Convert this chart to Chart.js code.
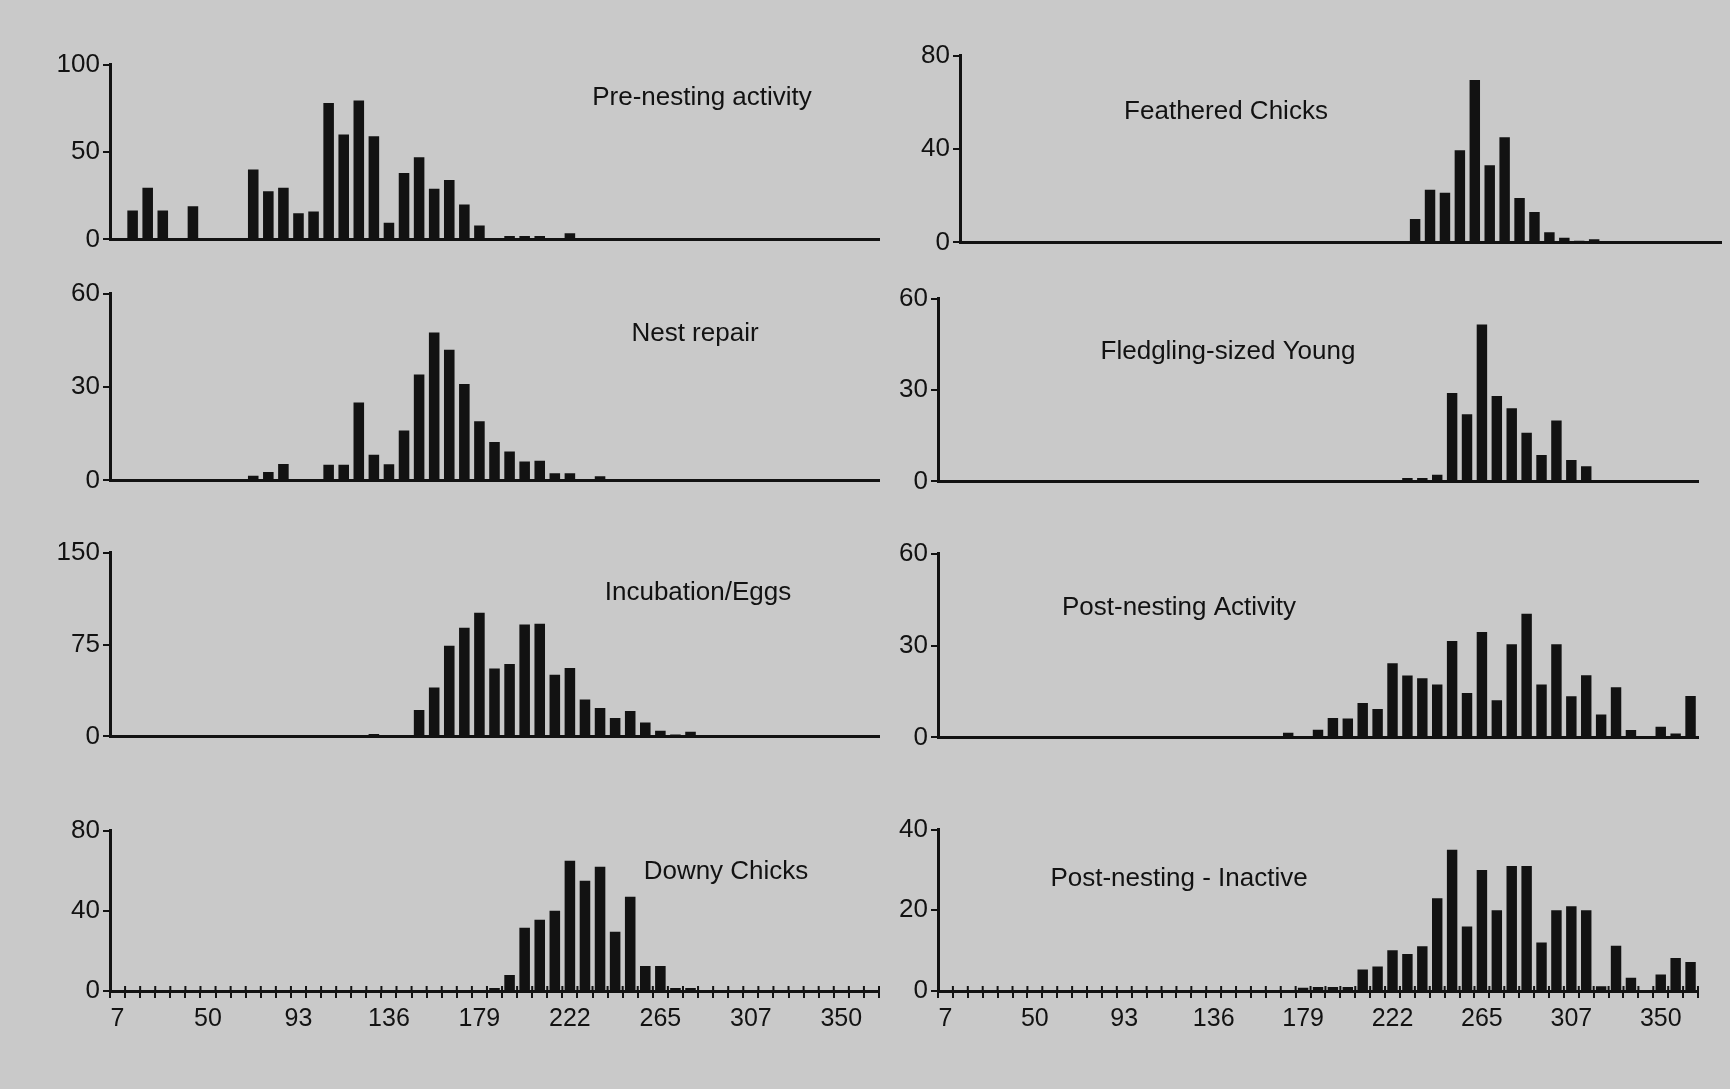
<!DOCTYPE html>
<html>
<head>
<meta charset="utf-8">
<title>Nesting activity by day</title>
<script src="https://cdn.jsdelivr.net/npm/chart.js@4.4.1/dist/chart.umd.min.js"></script>
<style>
  html, body { margin: 0; padding: 0; }
  body { width: 1730px; height: 1089px; background: #c9c9c9; position: relative; overflow: hidden; }
  canvas { position: absolute; }
</style>
</head>
<body>
<script>
// weekly bins (day of year), one per bar
const days = [7, 14, 21, 29, 36, 43, 50, 57, 64, 72, 79, 86, 93, 100, 107, 114, 122, 129, 136,
  143, 150, 157, 165, 172, 179, 186, 193, 200, 208, 215, 222, 229, 236, 243, 250, 258, 265,
  272, 279, 286, 293, 300, 307, 315, 322, 329, 336, 343, 350, 358, 365];
const tickDays = [7, 50, 93, 136, 179, 222, 265, 307, 350];

const preNesting = [0, 16.5, 29.5, 16.5, 0, 19, 0, 0, 0.5, 40, 27.5, 29.5, 15, 16, 78, 60, 79.5,
  59, 9.5, 38, 47, 29, 34, 20, 8, 0.5, 2, 2, 2, 0, 3.5,
  0, 0, 0, 0, 0, 0, 0, 0, 0, 0, 0, 0, 0, 0, 0, 0, 0, 0, 0, 0];
const nestRepair = [0, 0, 0, 0, 0, 0, 0, 0, 0, 1.5, 2.7, 5.3, 0, 0, 5, 5, 25, 8.2, 5.2, 16, 34,
  47.5, 42, 31, 19, 12.3, 9.3, 6.1, 6.3, 2.3, 2.3, 0, 1.3,
  0, 0, 0, 0, 0, 0, 0, 0, 0, 0, 0, 0, 0, 0, 0, 0, 0, 0];
const incubation = [0, 0, 0, 0, 0, 0, 0, 0, 0, 0, 0, 0, 0, 0, 0, 0, 0, 1.9, 0, 0, 21.6, 40, 74,
  88.7, 101, 55.5, 59, 91.4, 92, 50.4, 55.8, 30.2, 23.2, 15.1, 20.8, 11.3, 4.6, 1.6, 3.8,
  0, 0, 0, 0, 0, 0, 0, 0, 0, 0, 0, 0];
const downyChicks = [0, 0, 0, 0, 0, 0, 0, 0, 0, 0, 0, 0, 0, 0, 0, 0, 0, 0, 0, 0, 0, 0, 0, 0,
  0.5, 1.5, 8, 31.5, 35.5, 40, 65, 55, 62, 29.5, 47, 12.5, 12.5, 1.5, 1.5, 0, 0.5,
  0, 0, 0, 0, 0, 0, 0, 0, 0, 0];
const featheredChicks = [0, 0, 0, 0, 0, 0, 0, 0, 0, 0, 0, 0, 0, 0, 0, 0, 0, 0, 0, 0, 0, 0, 0, 0,
  0, 0, 0, 0, 0, 0, 10, 22.5, 21.3, 39.5, 69.5, 33, 45, 19, 13, 4.4, 2, 0.7, 1.4,
  0, 0, 0, 0, 0, 0, 0, 0];
const fledglingYoung = [0, 0, 0, 0, 0, 0, 0, 0, 0, 0, 0, 0, 0, 0, 0, 0, 0, 0, 0, 0, 0, 0, 0, 0,
  0, 0, 0, 0, 0, 0, 0, 1.1, 1.1, 2.2, 29, 22, 51.5, 28, 24, 16, 8.7, 20, 7, 5,
  0, 0, 0, 0, 0, 0, 0];
const postActive = [0, 0, 0, 0, 0, 0, 0, 0, 0, 0, 0, 0, 0, 0, 0, 0, 0, 0, 0, 0, 0, 0, 0,
  1.5, 0, 2.5, 6.3, 6.2, 11.2, 9.3, 24.2, 20.2, 19.3, 17.3, 31.5, 14.5, 34.4, 12.1, 30.4,
  40.4, 17.3, 30.4, 13.4, 20.3, 7.5, 16.4, 2.4, 0, 3.5, 1.3, 13.5];
const postInactive = [0, 0, 0, 0, 0, 0, 0, 0, 0, 0, 0, 0, 0, 0, 0, 0, 0, 0, 0, 0, 0, 0, 0, 0,
  0.8, 1, 1, 1, 5.3, 6.1, 10.1, 9.2, 11.1, 23, 35, 16, 30, 20, 31, 31, 12, 20, 21, 20,
  1.2, 11.2, 3.3, 0, 4.1, 8.2, 7.2];

const INK = "#121212";
const FONT = "'Liberation Sans', Arial, sans-serif";
const Y_W = 80;   // width kept for the y axis
const PAD = 18;
const SIDE = 4;
const X_H = 44;   // height of x axis with labels (bottom row)

// panel frames in page pixels
const panels = [
  { title: "Pre-nesting activity", data: preNesting, max: 100, axisX: 110, endX: 879, topY: 64, zeroY: 240, tx: 702, ty: 98 },
  { title: "Feathered Chicks", data: featheredChicks, max: 80, axisX: 960, endX: 1721, topY: 55, zeroY: 243, tx: 1226, ty: 112 },
  { title: "Nest repair", data: nestRepair, max: 60, axisX: 110, endX: 879, topY: 293, zeroY: 481, tx: 695, ty: 334 },
  { title: "Fledgling-sized Young", data: fledglingYoung, max: 60, axisX: 938, endX: 1698, topY: 298, zeroY: 482, tx: 1228, ty: 352 },
  { title: "Incubation/Eggs", data: incubation, max: 150, axisX: 110, endX: 879, topY: 552, zeroY: 737, tx: 698, ty: 593 },
  { title: "Post-nesting Activity", data: postActive, max: 60, axisX: 938, endX: 1698, topY: 553, zeroY: 738, tx: 1179, ty: 608 },
  { title: "Downy Chicks", data: downyChicks, max: 80, axisX: 110, endX: 879, topY: 830, zeroY: 991, tx: 726, ty: 872, bottom: true },
  { title: "Post-nesting - Inactive", data: postInactive, max: 40, axisX: 938, endX: 1698, topY: 829, zeroY: 991, tx: 1179, ty: 879, bottom: true }
];

const titlePlugin = {
  id: "panelTitle",
  afterDraw(chart, args, opts) {
    const ctx = chart.ctx;
    ctx.save();
    ctx.font = "26px " + FONT;
    ctx.fillStyle = INK;
    ctx.textAlign = "center";
    ctx.textBaseline = "middle";
    ctx.fillText(opts.text, opts.x, opts.y);
    ctx.restore();
  }
};

// short stubs above the axis so the bin ticks cross the line, like the original
const crossTicks = {
  id: "crossTicks",
  afterDraw(chart, args, opts) {
    if (!opts.show) return;
    const x = chart.scales.x;
    const y0 = chart.chartArea.bottom;
    const ctx = chart.ctx;
    ctx.save();
    ctx.strokeStyle = INK;
    ctx.lineWidth = 2;
    ctx.beginPath();
    for (let i = 0; i <= days.length; i++) {
      const px = x.getPixelForTick(0) + (i - 0.5) * (x.getPixelForTick(1) - x.getPixelForTick(0));
      ctx.moveTo(px, y0);
      ctx.lineTo(px, y0 - 5);
    }
    ctx.stroke();
    ctx.restore();
  }
};

function makePanel(p) {
  const bottomRow = !!p.bottom;
  const left = p.axisX - Y_W - SIDE;
  const top = p.topY - PAD;
  const w = p.endX - p.axisX + Y_W + 2 * SIDE;
  const h = p.zeroY - p.topY + 2 * PAD + (bottomRow ? X_H : 0);

  const canvas = document.createElement("canvas");
  canvas.width = w;
  canvas.height = h;
  canvas.style.left = left + "px";
  canvas.style.top = top + "px";
  canvas.style.width = w + "px";
  canvas.style.height = h + "px";
  document.body.appendChild(canvas);

  return new Chart(canvas, {
    type: "bar",
    data: {
      labels: days,
      datasets: [{
        label: p.title,
        data: p.data,
        backgroundColor: INK,
        borderWidth: 0,
        barPercentage: 0.7,
        categoryPercentage: 1
      }]
    },
    plugins: [titlePlugin, crossTicks],
    options: {
      responsive: false,
      animation: false,
      events: [],
      layout: { padding: { left: SIDE, right: SIDE, top: PAD, bottom: PAD } },
      plugins: {
        legend: { display: false },
        tooltip: { enabled: false },
        panelTitle: { text: p.title, x: p.tx - left, y: p.ty - top },
        crossTicks: { show: bottomRow }
      },
      scales: {
        x: {
          type: "category",
          offset: true,
          afterFit: (s) => { s.height = bottomRow ? X_H : 0; },
          border: { display: true, color: INK, width: 3 },
          grid: { display: bottomRow, drawOnChartArea: false, offset: true, tickLength: 7, color: INK, lineWidth: 2 },
          ticks: {
            display: bottomRow,
            autoSkip: false,
            maxRotation: 0,
            padding: 6,
            color: INK,
            font: { family: FONT, size: 25 },
            callback: (v, i) => tickDays.includes(days[i]) ? String(days[i]) : ""
          }
        },
        y: {
          min: 0,
          max: p.max,
          afterFit: (s) => { s.width = Y_W; },
          border: { display: true, color: INK, width: 3 },
          grid: { display: true, drawOnChartArea: false, tickLength: 7, color: INK, lineWidth: 2 },
          ticks: { stepSize: p.max / 2, padding: 3, color: INK, font: { family: FONT, size: 26 } }
        }
      }
    }
  });
}

panels.forEach(makePanel);
</script>
</body>
</html>
